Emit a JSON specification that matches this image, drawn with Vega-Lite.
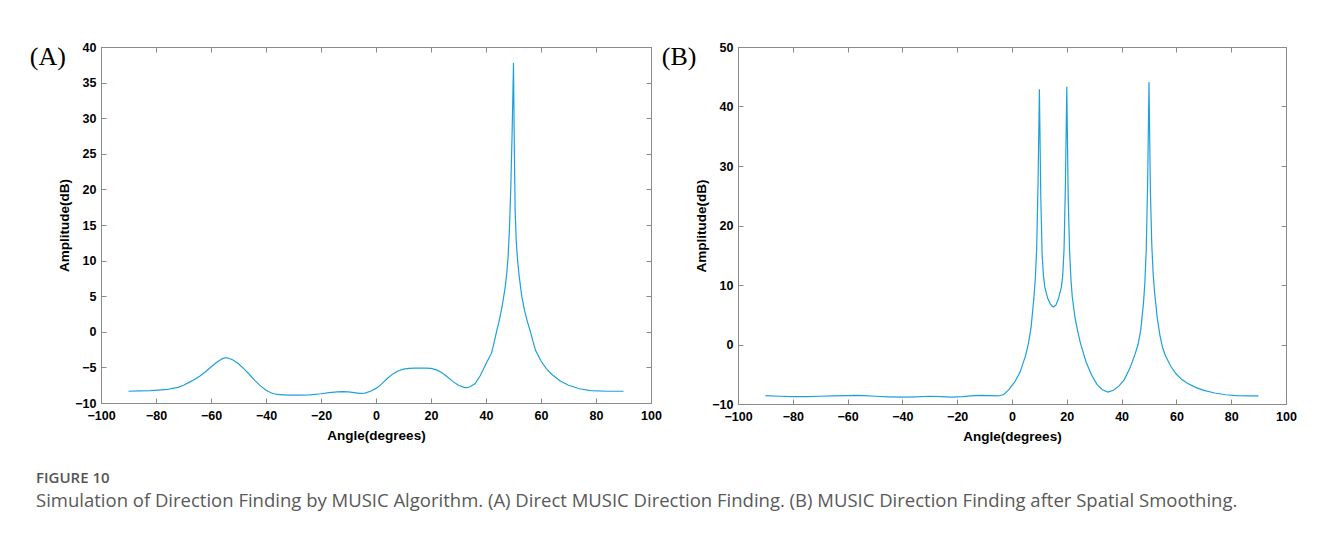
{
  "$schema": "https://vega.github.io/schema/vega-lite/v6.json",
  "background": "white",
  "padding": {"left": 29, "top": 41, "right": 10, "bottom": 10},
  "bounds": "flush",
  "spacing": 87,
  "datasets": {
    "a": [
      {"angle": -90, "amp": -8.35}, {"angle": -86, "amp": -8.3}, {"angle": -82, "amp": -8.25}, {"angle": -78, "amp": -8.15},
      {"angle": -76, "amp": -8.1}, {"angle": -74, "amp": -7.95}, {"angle": -72, "amp": -7.8}, {"angle": -70, "amp": -7.5},
      {"angle": -68, "amp": -7.1}, {"angle": -66, "amp": -6.7}, {"angle": -64, "amp": -6.2}, {"angle": -62, "amp": -5.6},
      {"angle": -60, "amp": -4.95}, {"angle": -58, "amp": -4.3}, {"angle": -56, "amp": -3.8}, {"angle": -55, "amp": -3.65},
      {"angle": -54, "amp": -3.65}, {"angle": -52, "amp": -3.95}, {"angle": -50, "amp": -4.5}, {"angle": -48, "amp": -5.2},
      {"angle": -46, "amp": -6.0}, {"angle": -44, "amp": -6.85}, {"angle": -42, "amp": -7.6}, {"angle": -40, "amp": -8.2},
      {"angle": -38, "amp": -8.6}, {"angle": -36, "amp": -8.8}, {"angle": -32, "amp": -8.9}, {"angle": -28, "amp": -8.9},
      {"angle": -24, "amp": -8.85}, {"angle": -20, "amp": -8.7}, {"angle": -17, "amp": -8.55}, {"angle": -14, "amp": -8.45},
      {"angle": -12, "amp": -8.4}, {"angle": -10, "amp": -8.45}, {"angle": -8, "amp": -8.55}, {"angle": -6, "amp": -8.65},
      {"angle": -4, "amp": -8.6}, {"angle": -2, "amp": -8.35}, {"angle": 0, "amp": -7.95}, {"angle": 2, "amp": -7.35},
      {"angle": 4, "amp": -6.6}, {"angle": 6, "amp": -5.95}, {"angle": 8, "amp": -5.5}, {"angle": 10, "amp": -5.25},
      {"angle": 12, "amp": -5.15}, {"angle": 14, "amp": -5.1}, {"angle": 16, "amp": -5.1}, {"angle": 18, "amp": -5.1},
      {"angle": 20, "amp": -5.15}, {"angle": 22, "amp": -5.35}, {"angle": 24, "amp": -5.75}, {"angle": 26, "amp": -6.35},
      {"angle": 28, "amp": -7.0}, {"angle": 30, "amp": -7.5}, {"angle": 32, "amp": -7.8}, {"angle": 33, "amp": -7.85},
      {"angle": 34, "amp": -7.75}, {"angle": 36, "amp": -7.3}, {"angle": 38, "amp": -6.1}, {"angle": 40, "amp": -4.5},
      {"angle": 42, "amp": -3.0}, {"angle": 43, "amp": -1.4}, {"angle": 44, "amp": 0.3}, {"angle": 45, "amp": 1.9},
      {"angle": 46, "amp": 3.9}, {"angle": 47, "amp": 6.3}, {"angle": 47.5, "amp": 8.0}, {"angle": 48, "amp": 10.3},
      {"angle": 48.5, "amp": 14.2}, {"angle": 49, "amp": 20}, {"angle": 49.5, "amp": 28}, {"angle": 50, "amp": 37.8},
      {"angle": 50.3, "amp": 26}, {"angle": 50.6, "amp": 17}, {"angle": 51, "amp": 12.7}, {"angle": 51.5, "amp": 10},
      {"angle": 52, "amp": 8}, {"angle": 53, "amp": 5}, {"angle": 54, "amp": 3}, {"angle": 55, "amp": 1.5},
      {"angle": 56, "amp": 0.2}, {"angle": 58, "amp": -2.6}, {"angle": 60, "amp": -4.1}, {"angle": 62, "amp": -5.2},
      {"angle": 64, "amp": -6.0}, {"angle": 67, "amp": -6.9}, {"angle": 70, "amp": -7.5}, {"angle": 74, "amp": -8.0},
      {"angle": 78, "amp": -8.25}, {"angle": 84, "amp": -8.35}, {"angle": 90, "amp": -8.35}
    ],
    "b": [
      {"angle": -90, "amp": -8.6}, {"angle": -85, "amp": -8.7}, {"angle": -80, "amp": -8.75}, {"angle": -75, "amp": -8.75},
      {"angle": -70, "amp": -8.7}, {"angle": -65, "amp": -8.65}, {"angle": -60, "amp": -8.6}, {"angle": -57, "amp": -8.55},
      {"angle": -54, "amp": -8.6}, {"angle": -50, "amp": -8.7}, {"angle": -45, "amp": -8.8}, {"angle": -40, "amp": -8.85},
      {"angle": -35, "amp": -8.8}, {"angle": -30, "amp": -8.7}, {"angle": -26, "amp": -8.75}, {"angle": -22, "amp": -8.85},
      {"angle": -18, "amp": -8.75}, {"angle": -14, "amp": -8.6}, {"angle": -11, "amp": -8.55}, {"angle": -8, "amp": -8.6},
      {"angle": -5, "amp": -8.65}, {"angle": -3, "amp": -8.4}, {"angle": -1, "amp": -7.5}, {"angle": 1, "amp": -6.3},
      {"angle": 3, "amp": -4.6}, {"angle": 5, "amp": -1.8}, {"angle": 6, "amp": 0.2}, {"angle": 7, "amp": 3.0},
      {"angle": 8, "amp": 7.9}, {"angle": 8.5, "amp": 11}, {"angle": 9, "amp": 16}, {"angle": 9.5, "amp": 27},
      {"angle": 10, "amp": 42.9}, {"angle": 10.5, "amp": 25}, {"angle": 11, "amp": 15}, {"angle": 11.5, "amp": 11.5},
      {"angle": 12, "amp": 9.6}, {"angle": 13, "amp": 7.8}, {"angle": 14, "amp": 6.8}, {"angle": 15, "amp": 6.3},
      {"angle": 16, "amp": 6.6}, {"angle": 17, "amp": 7.8}, {"angle": 18, "amp": 9.6}, {"angle": 18.5, "amp": 11.5},
      {"angle": 19, "amp": 16}, {"angle": 19.5, "amp": 27}, {"angle": 20, "amp": 43.3}, {"angle": 20.5, "amp": 25},
      {"angle": 21, "amp": 16}, {"angle": 21.5, "amp": 11}, {"angle": 22, "amp": 8}, {"angle": 23, "amp": 4.5},
      {"angle": 24, "amp": 2.2}, {"angle": 25, "amp": 0.2}, {"angle": 27, "amp": -2.9}, {"angle": 29, "amp": -5.1},
      {"angle": 31, "amp": -6.7}, {"angle": 33, "amp": -7.6}, {"angle": 35, "amp": -8.0}, {"angle": 37, "amp": -7.7},
      {"angle": 39, "amp": -7.0}, {"angle": 41, "amp": -5.9}, {"angle": 43, "amp": -4.0}, {"angle": 44, "amp": -2.8},
      {"angle": 45, "amp": -1.5}, {"angle": 46, "amp": 0.0}, {"angle": 47, "amp": 2.5}, {"angle": 48, "amp": 7},
      {"angle": 48.5, "amp": 10.5}, {"angle": 49, "amp": 16}, {"angle": 49.5, "amp": 27}, {"angle": 50, "amp": 44.1},
      {"angle": 50.5, "amp": 26}, {"angle": 51, "amp": 17}, {"angle": 51.5, "amp": 12}, {"angle": 52, "amp": 9},
      {"angle": 53, "amp": 4.5}, {"angle": 54, "amp": 1.5}, {"angle": 55, "amp": -0.6}, {"angle": 56, "amp": -1.9},
      {"angle": 58, "amp": -3.7}, {"angle": 60, "amp": -5.0}, {"angle": 62, "amp": -5.9}, {"angle": 64, "amp": -6.5},
      {"angle": 67, "amp": -7.2}, {"angle": 70, "amp": -7.7}, {"angle": 74, "amp": -8.15}, {"angle": 78, "amp": -8.45},
      {"angle": 82, "amp": -8.6}, {"angle": 86, "amp": -8.65}, {"angle": 90, "amp": -8.65}
    ]
  },
  "title": {
    "text": "FIGURE 10",
    "subtitle": "Simulation of Direction Finding by MUSIC Algorithm. (A) Direct MUSIC Direction Finding. (B) MUSIC Direction Finding after Spatial Smoothing.",
    "orient": "bottom",
    "anchor": "start",
    "frame": "group",
    "offset": 28,
    "dx": -65,
    "font": "Open Sans",
    "fontSize": 15,
    "fontWeight": 600,
    "color": "#555555",
    "subtitleFont": "Open Sans",
    "subtitleFontSize": 18.5,
    "subtitleColor": "#595959",
    "subtitlePadding": 6
  },
  "hconcat": [
    {
      "width": 550,
      "height": 356,
      "title": {"text": "(A)", "anchor": "start", "frame": "bounds", "font": "Liberation Serif", "fontSize": 26, "fontWeight": "normal", "color": "black", "dx": -28, "dy": 33},
      "data": {"name": "a"},
      "layer": [
        {
          "mark": {"type": "line", "color": "#1da1db", "strokeWidth": 1.2},
          "encoding": {
            "x": {"field": "angle", "type": "quantitative", "scale": {"domain": [-100, 100], "nice": false},
                  "axis": {"orient": "bottom", "title": "Angle(degrees)", "labelPadding": 11.5, "titlePadding": 6, "values": [-100, -80, -60, -40, -20, 0, 20, 40, 60, 80, 100]}},
            "y": {"field": "amp", "type": "quantitative", "scale": {"domain": [-10, 40], "nice": false, "zero": false},
                  "axis": {"orient": "left", "title": "Amplitude(dB)", "labelPadding": 10, "titlePadding": 3, "values": [-10, -5, 0, 5, 10, 15, 20, 25, 30, 35, 40]}}
          }
        },
        {
          "mark": {"type": "line", "opacity": 0},
          "encoding": {
            "x": {"field": "angle", "type": "quantitative", "scale": {"domain": [-100, 100], "nice": false},
                  "axis": {"orient": "top", "title": null, "labels": false, "values": [-100, -80, -60, -40, -20, 0, 20, 40, 60, 80, 100]}},
            "y": {"field": "amp", "type": "quantitative", "scale": {"domain": [-10, 40], "nice": false, "zero": false},
                  "axis": {"orient": "right", "title": null, "labels": false, "values": [-10, -5, 0, 5, 10, 15, 20, 25, 30, 35, 40]}}
          }
        }
      ],
      "resolve": {"axis": {"x": "independent", "y": "independent"}}
    },
    {
      "width": 548,
      "height": 357,
      "title": {"text": "(B)", "anchor": "start", "frame": "bounds", "font": "Liberation Serif", "fontSize": 26, "fontWeight": "normal", "color": "black", "dx": -33, "dy": 33},
      "data": {"name": "b"},
      "layer": [
        {
          "mark": {"type": "line", "color": "#1da1db", "strokeWidth": 1.2},
          "encoding": {
            "x": {"field": "angle", "type": "quantitative", "scale": {"domain": [-100, 100], "nice": false},
                  "axis": {"orient": "bottom", "title": "Angle(degrees)", "labelPadding": 11.5, "titlePadding": 6, "values": [-100, -80, -60, -40, -20, 0, 20, 40, 60, 80, 100]}},
            "y": {"field": "amp", "type": "quantitative", "scale": {"domain": [-10, 50], "nice": false, "zero": false},
                  "axis": {"orient": "left", "title": "Amplitude(dB)", "labelPadding": 10, "titlePadding": 3, "values": [-10, 0, 10, 20, 30, 40, 50]}}
          }
        },
        {
          "mark": {"type": "line", "opacity": 0},
          "encoding": {
            "x": {"field": "angle", "type": "quantitative", "scale": {"domain": [-100, 100], "nice": false},
                  "axis": {"orient": "top", "title": null, "labels": false, "values": [-100, -80, -60, -40, -20, 0, 20, 40, 60, 80, 100]}},
            "y": {"field": "amp", "type": "quantitative", "scale": {"domain": [-10, 50], "nice": false, "zero": false},
                  "axis": {"orient": "right", "title": null, "labels": false, "values": [-10, 0, 10, 20, 30, 40, 50]}}
          }
        }
      ],
      "resolve": {"axis": {"x": "independent", "y": "independent"}}
    }
  ],
  "config": {
    "view": {"stroke": null},
    "axis": {
      "grid": false,
      "domainColor": "#8a8a8a",
      "domainWidth": 1,
      "tickColor": "#8a8a8a",
      "tickSize": -5,
      "labelPadding": 8,
      "labelFont": "Liberation Sans",
      "labelFontWeight": "bold",
      "labelFontSize": 12.5,
      "labelColor": "black",
      "labelFlush": false,
      "labelOverlap": false,
      "titleFont": "Liberation Sans",
      "titleFontWeight": "bold",
      "titleFontSize": 13.5,
      "titleColor": "black",
      "titlePadding": 6
    }
  }
}
